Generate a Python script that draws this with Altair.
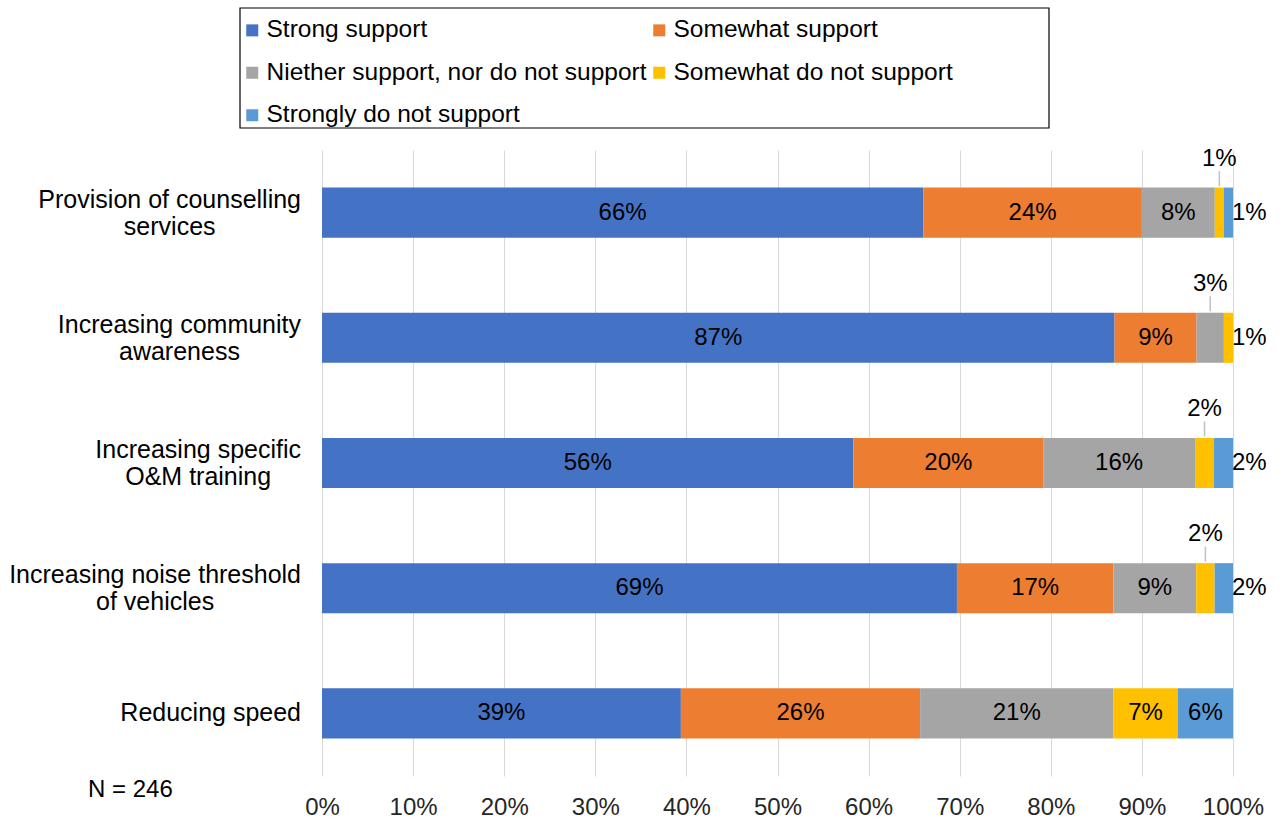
import altair as alt
import pandas as pd

categories = [
    "Provision of counselling services",
    "Increasing community awareness",
    "Increasing specific O&M training",
    "Increasing noise threshold of vehicles",
    "Reducing speed",
]
label_lines = [
    ["Provision of counselling", "services"],
    ["Increasing community", "awareness"],
    ["Increasing specific", "O&M training"],
    ["Increasing noise threshold", "of vehicles"],
    ["Reducing speed"],
]
series = [
    "Strong support",
    "Somewhat support",
    "Niether support, nor do not support",
    "Somewhat do not support",
    "Strongly do not support",
]
colors = ["#4472C4", "#ED7D31", "#A5A5A5", "#FFC000", "#5B9BD5"]

strong = [66, 87, 56, 69, 39]
somewhat = [24, 9, 20, 17, 26]
neither = [8, 3, 16, 9, 21]
somewhat_not = [1, 1, 2, 2, 7]
strongly_not = [1, 0, 2, 2, 6]

x_ticks = [0, 0.1, 0.2, 0.3, 0.4, 0.5, 0.6, 0.7, 0.8, 0.9, 1.0]
note_text = "N = 246"

FONT = "Liberation Sans"
FS = 24
CFS = 25

rows = []
for i, c in enumerate(categories):
    vals = [strong[i], somewhat[i], neither[i], somewhat_not[i], strongly_not[i]]
    total = sum(vals)
    last = max(j for j, v in enumerate(vals) if v > 0)
    cum = 0
    for j, (s, v) in enumerate(zip(series, vals)):
        start = cum / total
        cum += v
        end = cum / total
        if v == 0:
            place = "none"
        elif v > 3:
            place = "inside"
        elif j == last:
            place = "right"
        else:
            place = "above"
        rows.append(dict(category=c, series=s, order=j, value=v, start=start,
                         end=end, mid=(start + end) / 2, label=f"{v}%", place=place))
df = pd.DataFrame(rows)

# approximate Arial glyph widths (em/1000) to centre wrapped category lines
W = {**{ch: 556 for ch in "abdeghnopqu"}, "c": 500, "f": 278, "i": 222, "j": 222,
     "k": 500, "l": 222, "m": 833, "r": 333, "s": 500, "t": 278, "v": 500, "w": 722,
     "x": 500, "y": 500, "z": 500, " ": 278, "&": 667, "O": 778, "M": 833, "P": 667,
     "I": 278, "R": 722, "N": 722, "S": 667}


def text_w(t):
    return sum(W.get(ch, 556) for ch in t) / 1000 * CFS


lab_rows = []
for c, lines in zip(categories, label_lines):
    cx = -21 - max(text_w(t) for t in lines) / 2
    n = len(lines)
    for k, t in enumerate(lines):
        kind = "single" if n == 1 else ("first" if k == 0 else "second")
        lab_rows.append(dict(category=c, text=t, lx=cx, kind=kind))
lab = pd.DataFrame(lab_rows)

Y = alt.Y("category:N", sort=categories, axis=None,
          scale=alt.Scale(paddingInner=0.6, paddingOuter=0.3))

xaxis = alt.Axis(values=x_ticks, format=".0%", grid=True, gridColor="#d9d9d9",
                 gridWidth=1, domain=False, ticks=False, labelFontSize=FS,
                 labelFont=FONT, labelColor="#262626", labelPadding=19,
                 labelFlush=False, title=None)

# legend fills column-major in Vega; order the domain so it reads row by row
legend_order = [series[0], series[2], series[4], series[1], series[3]]
legend_colors = [colors[series.index(s)] for s in legend_order]

bars = alt.Chart(df).transform_filter("datum.value > 0").mark_bar().encode(
    y=Y,
    x=alt.X("start:Q", scale=alt.Scale(domain=[0, 1]), axis=xaxis),
    x2="end:Q",
    color=alt.Color("series:N",
                    scale=alt.Scale(domain=legend_order, range=legend_colors),
                    legend=alt.Legend(orient="none", legendX=-82, legendY=-132,
                                      columns=2, title=None, symbolType="square",
                                      symbolSize=144, symbolStrokeWidth=0,
                                      labelFontSize=24.5, labelFont=FONT,
                                      labelColor="#000", labelLimit=600,
                                      labelOffset=2, rowPadding=17.5,
                                      columnPadding=-3, padding=0)),
)

inside = alt.Chart(df).transform_filter("datum.place == 'inside'").mark_text(
    font=FONT, fontSize=FS, color="#000").encode(
    y=Y, x=alt.X("mid:Q", title=None), text="label:N")

ticks = alt.Chart(df).transform_filter("datum.place == 'above'").mark_tick(
    size=15, thickness=1.5, color="#a6a6a6", yOffset=-34).encode(
    y=Y, x=alt.X("mid:Q", title=None))

above = alt.Chart(df).transform_filter("datum.place == 'above'").mark_text(
    font=FONT, fontSize=FS, color="#000", dy=-54).encode(
    y=Y, x=alt.X("mid:Q", title=None), text="label:N")

right = alt.Chart(df).transform_filter("datum.place == 'right'").mark_text(
    font=FONT, fontSize=FS, color="#000", align="left", dx=-1).encode(
    y=Y, x=alt.X("end:Q", title=None), text="label:N")


def cat_layer(kind, dy):
    return alt.Chart(lab).transform_filter(f"datum.kind == '{kind}'").mark_text(
        font=FONT, fontSize=CFS, color="#000", align="center", baseline="middle",
        dy=dy).encode(
        y=Y, x=alt.X("lx:Q", scale=None, axis=None), text="text:N")


cat1 = cat_layer("first", -13)
cat2 = cat_layer("second", 14)
cat0 = cat_layer("single", 0)

note = alt.Chart(pd.DataFrame({"t": [note_text]})).mark_text(
    font=FONT, fontSize=FS, color="#000", align="left", baseline="middle").encode(
    x=alt.value(-234), y=alt.value(640), text="t:N")

frame = alt.Chart(pd.DataFrame({"a": [0]})).mark_rect(
    filled=False, stroke="#000", strokeWidth=1.2).encode(
    x=alt.value(-82), x2=alt.value(727), y=alt.value(-142), y2=alt.value(-22))

chart = alt.layer(frame, bars, inside, ticks, above, right, cat1, cat2, cat0,
                  note).properties(
    width=911, height=626,
    autosize=alt.AutoSizeParams(type="none"),
    padding={"left": 322, "top": 150, "right": 52, "bottom": 42},
).configure_view(stroke=None)

chart.save("out.html", embed_options={"renderer": "svg", "actions": False})
